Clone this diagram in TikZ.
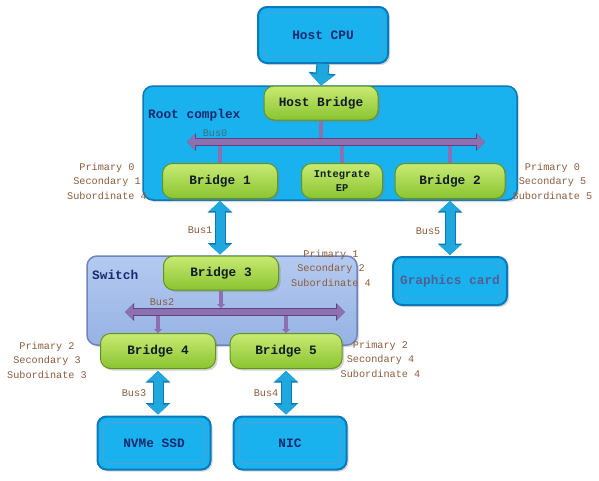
\documentclass[tikz,border=0pt]{standalone}
\usepackage{fontspec}
\setmonofont{Liberation Mono}
\usepackage{xcolor}
\usepackage{tikz}
\usetikzlibrary{arrows.meta, positioning, shadows, calc}
\definecolor{PCICyan}{RGB}{26, 178, 238}
\definecolor{PCICyanDark}{RGB}{12, 120, 185}
\definecolor{PCIGreenTop}{RGB}{200, 234, 115}
\definecolor{PCIGreenBot}{RGB}{138, 196, 48}
\definecolor{PCIGreenEdge}{RGB}{98, 148, 30}
\definecolor{PCISwitchTop}{RGB}{180, 202, 240}
\definecolor{PCISwitchBot}{RGB}{150, 178, 228}
\definecolor{PCISwitchEdge}{RGB}{110, 132, 188}
\definecolor{PCIBus}{RGB}{142, 112, 176}
\definecolor{PCIBusDark}{RGB}{92, 68, 128}
\definecolor{PCIArrow}{RGB}{30, 168, 222}
\definecolor{PCINavy}{RGB}{22, 42, 112}
\definecolor{PCIText}{RGB}{18, 28, 40}
\definecolor{PCIBrown}{RGB}{140, 92, 60}
\definecolor{PCITeal}{RGB}{60, 110, 125}

\tikzset{
  boxfont/.style={font=\ttfamily\bfseries\fontsize{12.8}{15}\selectfont},
  bridgebox/.style={boxfont, rounded corners=10pt, top color=PCIGreenTop,
    bottom color=PCIGreenBot, draw=PCIGreenEdge, line width=1pt,
    minimum height=35pt, inner sep=2pt, text=PCIText,
    drop shadow={opacity=0.35, shadow xshift=2pt, shadow yshift=-2pt}},
  devicebox/.style={boxfont, rounded corners=9pt, fill=PCICyan,
    draw=PCICyanDark, line width=2pt, inner sep=2pt, text=PCINavy,
    drop shadow={opacity=0.3, shadow xshift=2pt, shadow yshift=-2pt},
    path picture={\draw[PCICyanDark!70, line width=0.8pt, rounded corners=5pt]
      ($(path picture bounding box.south west)+(6pt,6pt)$) rectangle
      ($(path picture bounding box.north east)-(6pt,6pt)$);}},
  groupbox/.style={rounded corners=10pt, line width=1.5pt,
    drop shadow={opacity=0.3, shadow xshift=2pt, shadow yshift=-2pt}},
  grouplabel/.style={boxfont, text=PCINavy, anchor=west, inner sep=0pt},
  reglabel/.style={align=center, inner sep=1pt, text=PCIBrown,
    font=\ttfamily\fontsize{10.2}{14.5}\selectfont},
  buslabel/.style={inner sep=0pt, text=PCIBrown,
    font=\ttfamily\fontsize{10.2}{12}\selectfont},
  linkarrow/.style={PCIArrow, line width=9pt,
    {Triangle[width=21pt,length=10pt]}-{Triangle[width=21pt,length=10pt]},
    preaction={draw=PCICyanDark, line width=11pt,
      arrows={Triangle[width=24pt,length=11.5pt]-Triangle[width=24pt,length=11.5pt]}}},
  downarrow/.style={PCIArrow, line width=11pt, -{Triangle[width=24pt,length=11pt]},
    preaction={draw=PCICyanDark, line width=13pt,
      arrows={-Triangle[width=27pt,length=12.5pt]}}},
  busline/.style={PCIBus, line width=6pt,
    {Triangle[width=15pt,length=8pt]}-{Triangle[width=15pt,length=8pt]},
    preaction={draw=PCIBusDark, line width=7.5pt,
      arrows={Triangle[width=17pt,length=9pt]-Triangle[width=17pt,length=9pt]}}},
  tapline/.style={PCIBus, line width=4.5pt},
  taparrow/.style={PCIBus, line width=4pt, -{Triangle[width=8pt,length=4pt]}}
}

\begin{document}
\begin{tikzpicture}[x=1pt, y=-1pt]
  \useasboundingbox (0,0) rectangle (599,480);

  % containers
  \node[groupbox, fill=PCICyan, draw=PCICyanDark, minimum width=374pt,
    minimum height=114pt] (rc) at (330,143) {};
  \node[grouplabel] (rclbl) at (148,115) {Root complex};
  \node[groupbox, top color=PCISwitchTop, bottom color=PCISwitchBot,
    draw=PCISwitchEdge, minimum width=270pt, minimum height=89pt] (sw) at (222,300.5) {};
  \node[grouplabel] (swlbl) at (92,275) {Switch};

  % devices
  \node[devicebox, minimum width=130pt, minimum height=56pt] (cpu) at (323,35) {Host CPU};
  \node[devicebox, minimum width=114pt, minimum height=48pt, text=PCINavy!75] (gfx) at (450,281) {Graphics card};
  \node[devicebox, minimum width=113pt, minimum height=53pt] (ssd) at (154,443) {NVMe SSD};
  \node[devicebox, minimum width=113pt, minimum height=53pt] (nic) at (290,443) {NIC};

  % bridges
  \node[bridgebox, minimum width=114pt, minimum height=34pt] (hb) at (321,103) {Host Bridge};
  \node[bridgebox, minimum width=115pt] (b1) at (220,181) {Bridge 1};
  \node[bridgebox, minimum width=81pt, align=center,
    font=\ttfamily\bfseries\fontsize{10.4}{14}\selectfont] (iep) at (342,181) {Integrate\\EP};
  \node[bridgebox, minimum width=110pt] (b2) at (450,181) {Bridge 2};
  \node[bridgebox, minimum width=115pt, minimum height=34pt] (b3) at (221,273) {Bridge 3};
  \node[bridgebox, minimum width=115pt] (b4) at (158,351) {Bridge 4};
  \node[bridgebox, minimum width=112pt] (b5) at (286,351) {Bridge 5};

  % bus numbers
  \node[reglabel, left=14pt of b1] (b1reg) {Primary 0\\Secondary 1\\Subordinate 4};
  \node[reglabel, right=6pt of b2] (b2reg) {Primary 0\\Secondary 5\\Subordinate 5};
  \node[reglabel, right=11pt of b3, yshift=5pt] (b3reg) {Primary 1\\Secondary 2\\Subordinate 4};
  \node[reglabel, left=12pt of b4, yshift=-9pt] (b4reg) {Primary 2\\Secondary 3\\Subordinate 3};
  \node[reglabel, right=-3pt of b5, yshift=-8pt] (b5reg) {Primary 2\\Secondary 4\\Subordinate 4};

  % internal buses
  \coordinate (bus0w) at (187,142);
  \coordinate (bus0e) at (485,142);
  \coordinate (bus2w) at (125,312);
  \coordinate (bus2e) at (345,312);
  \draw[tapline] (hb.south) -- (hb.south |- bus0w);
  \draw[tapline] (b1.north |- bus0w) -- (b1.north);
  \draw[tapline] (iep.north |- bus0w) -- (iep.north);
  \draw[tapline] (b2.north |- bus0w) -- (b2.north);
  \draw[busline] (bus0w) -- (bus0e);
  \node[buslabel, text=PCITeal] (bus0lbl) at (215,133) {Bus0};

  \draw[taparrow] (b3.south) -- ([yshift=4pt]b3.south |- bus2w);
  \draw[taparrow] ([yshift=-4pt]b4.north |- bus2w) -- (b4.north);
  \draw[taparrow] ([yshift=-4pt]b5.north |- bus2w) -- (b5.north);
  \draw[busline] (bus2w) -- (bus2e);
  \node[buslabel] (bus2lbl) at (162,302) {Bus2};

  % links
  \draw[downarrow] (cpu.south) -- (hb.north);
  \draw[linkarrow] ([yshift=-2pt]b1.south) -- ([yshift=1pt]b1.south |- b3.north);
  \draw[linkarrow] ([yshift=-2pt]b2.south) -- ([yshift=1pt]b2.south |- gfx.north);
  \draw[linkarrow] ([yshift=-2pt]b4.south) -- ([yshift=1pt]b4.south |- ssd.north);
  \draw[linkarrow] ([yshift=-2pt]b5.south) -- ([yshift=1pt]b5.south |- nic.north);
  \node[buslabel] (bus1lbl) at (200,230) {Bus1};
  \node[buslabel] (bus5lbl) at (428,231) {Bus5};
  \node[buslabel] (bus3lbl) at (134,393) {Bus3};
  \node[buslabel] (bus4lbl) at (266,393) {Bus4};
\end{tikzpicture}
\end{document}
